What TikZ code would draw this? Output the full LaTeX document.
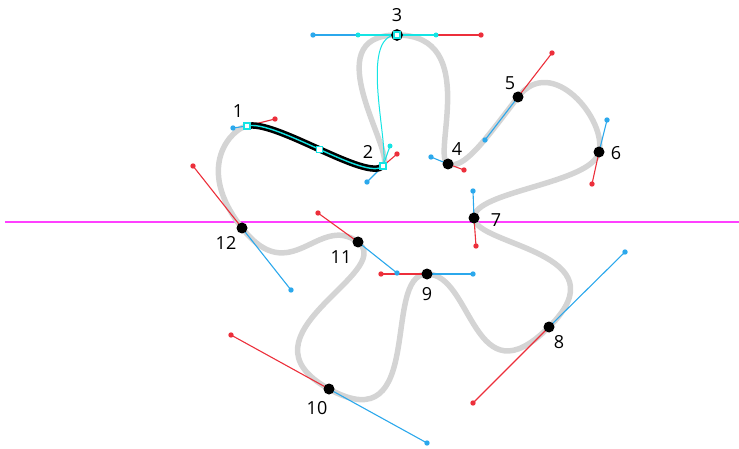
\documentclass[tikz,border=0pt]{standalone}
\usepackage{fontspec}
\setmainfont{Open Sans}
\definecolor{hblue}{HTML}{2BA8EC}
\definecolor{hred}{HTML}{EC2F3B}
\definecolor{selcyan}{HTML}{14E4E4}
\definecolor{guide}{HTML}{FF40FF}
\tikzset{
  curve/.style={draw=black!17, line width=5.5pt},
  inhandle/.style={draw=hblue, line width=1.1pt},
  outhandle/.style={draw=hred, line width=1.1pt},
  selbox/.style={draw=selcyan, fill=white, line width=1.2pt, inner sep=0pt, minimum size=6pt},
  lbl/.style={font=\fontsize{18}{18}\selectfont, inner sep=0pt}}

\begin{document}
\begin{tikzpicture}[x=1pt, y=-1pt]
      \useasboundingbox (0,0) rectangle (739,449);

      % anchors with their incoming and outgoing handles
      \coordinate (p1) at (247,126);  \coordinate (i1) at (233,128);  \coordinate (o1) at (275,119);
      \coordinate (p2) at (383,166);  \coordinate (i2) at (367,182);  \coordinate (o2) at (397,154);
      \coordinate (p3) at (397,35);   \coordinate (i3) at (313,35);   \coordinate (o3) at (481,35);
      \coordinate (p4) at (448,164);  \coordinate (i4) at (431,157);  \coordinate (o4) at (464,170);
      \coordinate (p5) at (518,97);   \coordinate (i5) at (485,140);  \coordinate (o5) at (552,53);
      \coordinate (p6) at (599,152);  \coordinate (i6) at (607,120);  \coordinate (o6) at (592,184);
      \coordinate (p7) at (474,218);  \coordinate (i7) at (473,191);  \coordinate (o7) at (476,246);
      \coordinate (p8) at (549,327);  \coordinate (i8) at (625,252);  \coordinate (o8) at (473,403);
      \coordinate (p9) at (427,274);  \coordinate (i9) at (473,274);  \coordinate (o9) at (381,274);
      \coordinate (p10) at (329,389); \coordinate (i10) at (427,443); \coordinate (o10) at (231,335);
      \coordinate (p11) at (358,242); \coordinate (i11) at (397,273); \coordinate (o11) at (318,213);
      \coordinate (p12) at (242,228); \coordinate (i12) at (291,290); \coordinate (o12) at (193,166);

      \coordinate (gl) at (5,222);
      \coordinate (gr) at (739,222);
      \draw [guide, line width=1.6pt] (gl) -- (gr);

      \draw [curve] (p1) .. controls (o1) and (i2) .. (p2)
        .. controls (o2) and (i3) .. (p3) .. controls (o3) and (i4) .. (p4)
        .. controls (o4) and (i5) .. (p5) .. controls (o5) and (i6) .. (p6)
        .. controls (o6) and (i7) .. (p7) .. controls (o7) and (i8) .. (p8)
        .. controls (o8) and (i9) .. (p9) .. controls (o9) and (i10) .. (p10)
        .. controls (o10) and (i11) .. (p11) .. controls (o11) and (i12) .. (p12)
        .. controls (o12) and (i1) .. (p1) -- cycle;

      \foreach \k in {1,...,12} {
        \draw [inhandle] (p\k) -- (i\k);
        \draw [outhandle] (p\k) -- (o\k);
        \fill [hblue] (i\k) circle (2.7pt);
        \fill [hred] (o\k) circle (2.7pt);
      }

      % selected segment
      \draw [black, line width=6.5pt, line cap=round] (p1) .. controls (o1) and (i2) .. (p2);
      \draw [selcyan, line width=1.4pt] (p1) .. controls (o1) and (i2) .. (p2)
        node [pos=0.5, selbox] (mid) {};

      % preview of the next segment
      \coordinate (c2) at (390,146);
      \coordinate (c3a) at (358,35);
      \coordinate (c3b) at (436,35);
      \draw [selcyan, line width=1pt] (p2) .. controls (c2) and (c3a) .. (p3);
      \draw [selcyan, line width=1.1pt] (p2) -- (c2);
      \draw [selcyan, line width=1.1pt] (c3a) -- (p3) -- (c3b);
      \fill [selcyan] (c2) circle (2.5pt);
      \fill [selcyan] (c3a) circle (2.5pt);
      \fill [selcyan] (c3b) circle (2.5pt);

      \foreach \k in {4,...,12}
        \fill [black] (p\k) circle (5.5pt);
      \draw [black, fill=white, line width=2pt] (p3) circle (4.8pt);
      \node [selbox] (s1) at (p1) {};
      \node [selbox] (s2) at (p2) {};
      \node [selbox] (s3) at (p3) {};

      \node [lbl] (n1) at (238,111) {1};
      \node [lbl] (n2) at (368,152) {2};
      \node [lbl] (n3) at (397,15) {3};
      \node [lbl] (n4) at (457,149) {4};
      \node [lbl] (n5) at (510,83) {5};
      \node [lbl] (n6) at (616,153) {6};
      \node [lbl] (n7) at (496,220) {7};
      \node [lbl] (n8) at (559,342) {8};
      \node [lbl] (n9) at (427,294) {9};
      \node [lbl] (n10) at (317,408) {10};
      \node [lbl] (n11) at (341,257) {11};
      \node [lbl] (n12) at (226,243) {12};
    \end{tikzpicture}
\end{document}
